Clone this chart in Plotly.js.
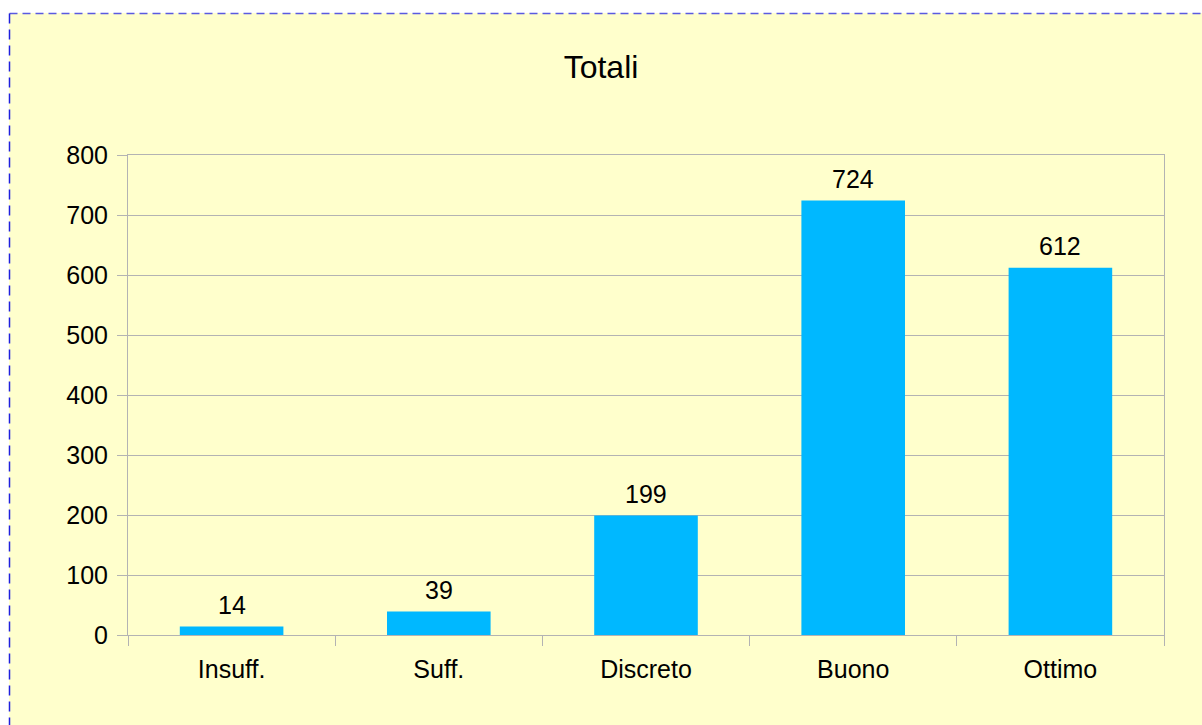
<!DOCTYPE html>
<html>
<head>
<meta charset="utf-8">
<script src="https://cdn.plot.ly/plotly-3.0.1.min.js"></script>
<style>
  html, body { margin: 0; padding: 0; background: #ffffff; overflow: hidden; }
  #bg { position: absolute; left: 9px; top: 13px; width: 1210px; height: 730px; background: #ffffcc; }
  #frame { position: absolute; left: 0; top: 0; width: 1202px; height: 725px; }
  #chart { position: absolute; left: 0; top: 0; width: 1202px; height: 725px; }
</style>
</head>
<body>
<div id="bg"></div>
<svg id="frame" width="1202" height="725">
  <line x1="9.5" y1="13.5" x2="1202" y2="13.5" stroke="#5a5ae0" stroke-width="1.5" stroke-dasharray="8 5"/>
  <line x1="9.5" y1="13.5" x2="9.5" y2="725" stroke="#1f1fdd" stroke-width="1.5" stroke-dasharray="10 6"/>
</svg>
<div id="chart"></div>
<script>
const categories = ["Insuff.", "Suff.", "Discreto", "Buono", "Ottimo"];
const totals = [14, 39, 199, 724, 612];
const yTickValues = [0, 100, 200, 300, 400, 500, 600, 700, 800];

const FONT = "Liberation Sans, Arial, sans-serif";
const GRID = "#b3b3b3";

const trace = {
  type: "bar",
  x: categories,
  y: totals,
  marker: { color: "#00b8ff", line: { width: 0 } },
  hoverinfo: "none"
};

const labels = categories.map((c, i) => ({
  x: c,
  y: totals[i],
  xref: "x",
  yref: "y",
  text: String(totals[i]),
  showarrow: false,
  xanchor: "center",
  yanchor: "bottom",
  yshift: 6,
  font: { family: FONT, size: 25, color: "#000000" }
}));

const layout = {
  width: 1202,
  height: 725,
  paper_bgcolor: "rgba(0,0,0,0)",
  plot_bgcolor: "rgba(0,0,0,0)",
  margin: { l: 128, r: 38, t: 155, b: 90 },
  bargap: 0.5,
  showlegend: false,
  font: { family: FONT, size: 25, color: "#000000" },
  annotations: labels,
  title: {
    text: "Totali",
    font: { family: FONT, size: 32, color: "#000000" },
    x: 0.5, xanchor: "center",
    y: 1 - 67 / 725, yanchor: "middle", yref: "container"
  },
  xaxis: {
    type: "category",
    showgrid: false,
    showline: true, linecolor: GRID, linewidth: 1, mirror: true,
    ticks: "outside", tickson: "boundaries", ticklen: 10, tickcolor: GRID, tickwidth: 1,
    ticklabelstandoff: 12,
    tickfont: { family: FONT, size: 25, color: "#000000" },
    fixedrange: true
  },
  yaxis: {
    range: [0, 800],
    tickvals: yTickValues,
    ticktext: yTickValues.map(String),
    showgrid: true, gridcolor: GRID, gridwidth: 1,
    zeroline: false,
    showline: true, linecolor: GRID, linewidth: 1, mirror: true,
    ticks: "outside", ticklen: 10, tickcolor: GRID, tickwidth: 1,
    ticklabelstandoff: 4,
    tickfont: { family: FONT, size: 25, color: "#000000" },
    fixedrange: true
  }
};

Plotly.newPlot("chart", [trace], layout, { displayModeBar: false, staticPlot: true });
</script>
</body>
</html>
